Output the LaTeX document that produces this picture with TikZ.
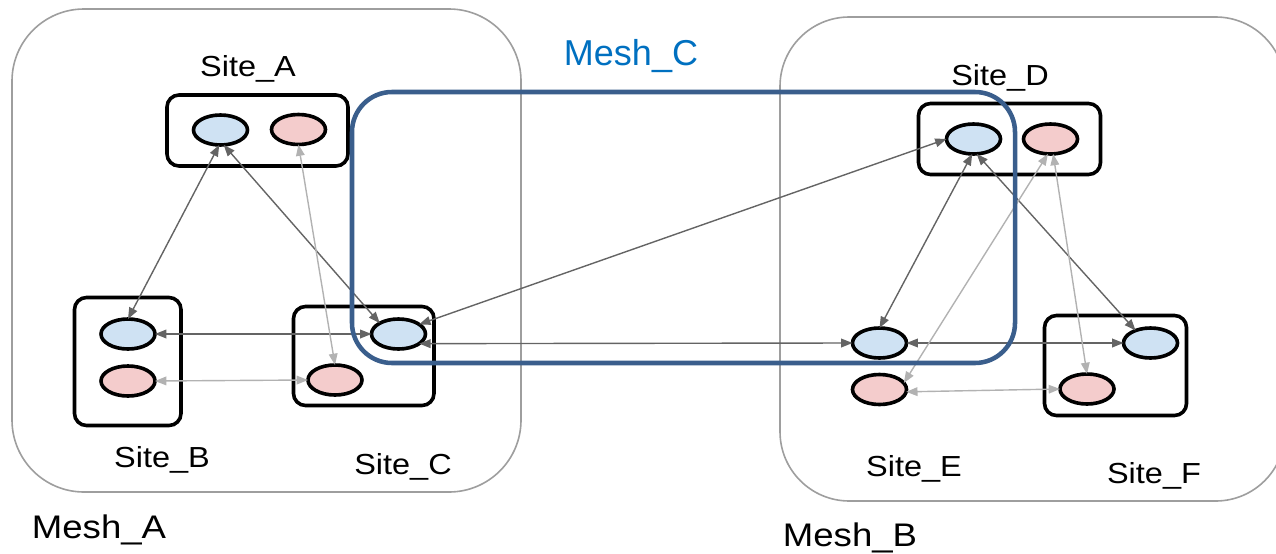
\documentclass[tikz,border=0pt]{standalone}
\usepackage{fontspec}
\setmainfont{Liberation Sans}
\newfontfamily\widefont{Liberation Sans}[FakeStretch=1.12]
\usetikzlibrary{arrows.meta,shapes.geometric}
\definecolor{meshgray}{RGB}{158,158,158}
\definecolor{meshc}{RGB}{58,94,140}
\definecolor{meshclabel}{RGB}{0,112,192}
\definecolor{nodeblue}{RGB}{207,226,243}
\definecolor{nodepink}{RGB}{244,204,204}
\definecolor{darkarrow}{RGB}{100,100,100}
\definecolor{lightarrow}{RGB}{178,178,178}
\begin{document}
\begin{tikzpicture}[x=0.75pt,y=-0.75pt,
 meshbox/.style={draw=meshgray,line width=1.2pt,rounded corners=54pt},
 sitebox/.style={draw=black,line width=2.7pt,rounded corners=9pt},
 meshcbox/.style={draw=meshc,line width=3.4pt,rounded corners=30pt},
 bnode/.style={ellipse,draw=black,line width=2.7pt,fill=nodeblue,minimum width=40.5pt,minimum height=22.5pt,inner sep=0pt,outer sep=0pt},
 pnode/.style={bnode,fill=nodepink},
 darklink/.style={draw=darkarrow,line width=1.05pt,{Triangle[length=8.5pt,width=6.5pt]}-{Triangle[length=8.5pt,width=6.5pt]}},
 lightlink/.style={darklink,draw=lightarrow},
 sitelabel/.style={anchor=base,inner sep=0pt,font=\widefont\fontsize{21.75}{24}\selectfont},
 meshlabel/.style={anchor=base,inner sep=0pt,font=\widefont\fontsize{24.5}{28}\selectfont}]
\useasboundingbox (0,0) rectangle (1276,553);
\clip (0,0) rectangle (1276,553);
% mesh regions
\draw[meshbox] (12,9) rectangle (521,492);
\draw[meshbox,rounded corners=52pt] (780,17) rectangle (1285,501);
% site boxes
\draw[sitebox] (167,95) rectangle (348,166);
\draw[sitebox] (74.5,297.5) rectangle (181,425.5);
\draw[sitebox] (293.5,306.5) rectangle (434,405.5);
\draw[sitebox] (918.5,103.5) rectangle (1100.5,174.5);
\draw[sitebox] (1044.5,315.5) rectangle (1186.5,415.5);
% endpoints
\node[bnode] (ab) at (220.5,130) {};
\node[pnode] (ap) at (298.5,129.5) {};
\node[bnode] (bb) at (128,334) {};
\node[pnode] (bp) at (128,381) {};
\node[bnode] (cb) at (398.5,334) {};
\node[pnode] (cp) at (335,380) {};
\node[bnode] (db) at (973.5,139) {};
\node[pnode] (dp) at (1050.5,139) {};
\node[bnode] (eb) at (879.5,343) {};
\node[pnode] (ep) at (879.5,389.5) {};
\node[bnode] (fb) at (1150.5,343) {};
\node[pnode] (fp) at (1087,389) {};
% links
\draw[darklink] (ab.-95) -- (bb.north);
\draw[darklink] (ab.-78) -- (cb.150);
\draw[darklink] (bb.east) -- (cb.west);
\draw[darklink] (cb.25) -- (db.west);
\draw[darklink] (cb.-25) -- (eb.west);
\draw[darklink] (db.-95) -- (eb.north);
\draw[darklink] (db.-78) -- (fb.140);
\draw[darklink] (eb.east) -- (fb.west);
\draw[lightlink] (ap.south) -- (cp.north);
\draw[lightlink] (bp.east) -- (cp.west);
\draw[lightlink] (dp.-100) -- (ep.15);
\draw[lightlink] (dp.-80) -- (fp.north);
\draw[lightlink] (ep.-5) -- (fp.west);
% Mesh_C region
\draw[meshcbox] (352,92) rectangle (1015,363);
% labels
\node[sitelabel] (lA) at (248,76) {Site\_A};
\node[sitelabel] (lB) at (162,467) {Site\_B};
\node[sitelabel] (lC) at (403,474) {Site\_C};
\node[sitelabel] (lD) at (1000,85) {Site\_D};
\node[sitelabel] (lE) at (914,476) {Site\_E};
\node[sitelabel] (lF) at (1154,483) {Site\_F};
\node[meshlabel] (mA) at (99,538) {Mesh\_A};
\node[meshlabel] (mB) at (850,546) {Mesh\_B};
\node[anchor=base,inner sep=0pt,text=meshclabel,font=\fontsize{27}{32}\selectfont] (mC) at (631,65) {Mesh\_C};
\end{tikzpicture}
\end{document}
